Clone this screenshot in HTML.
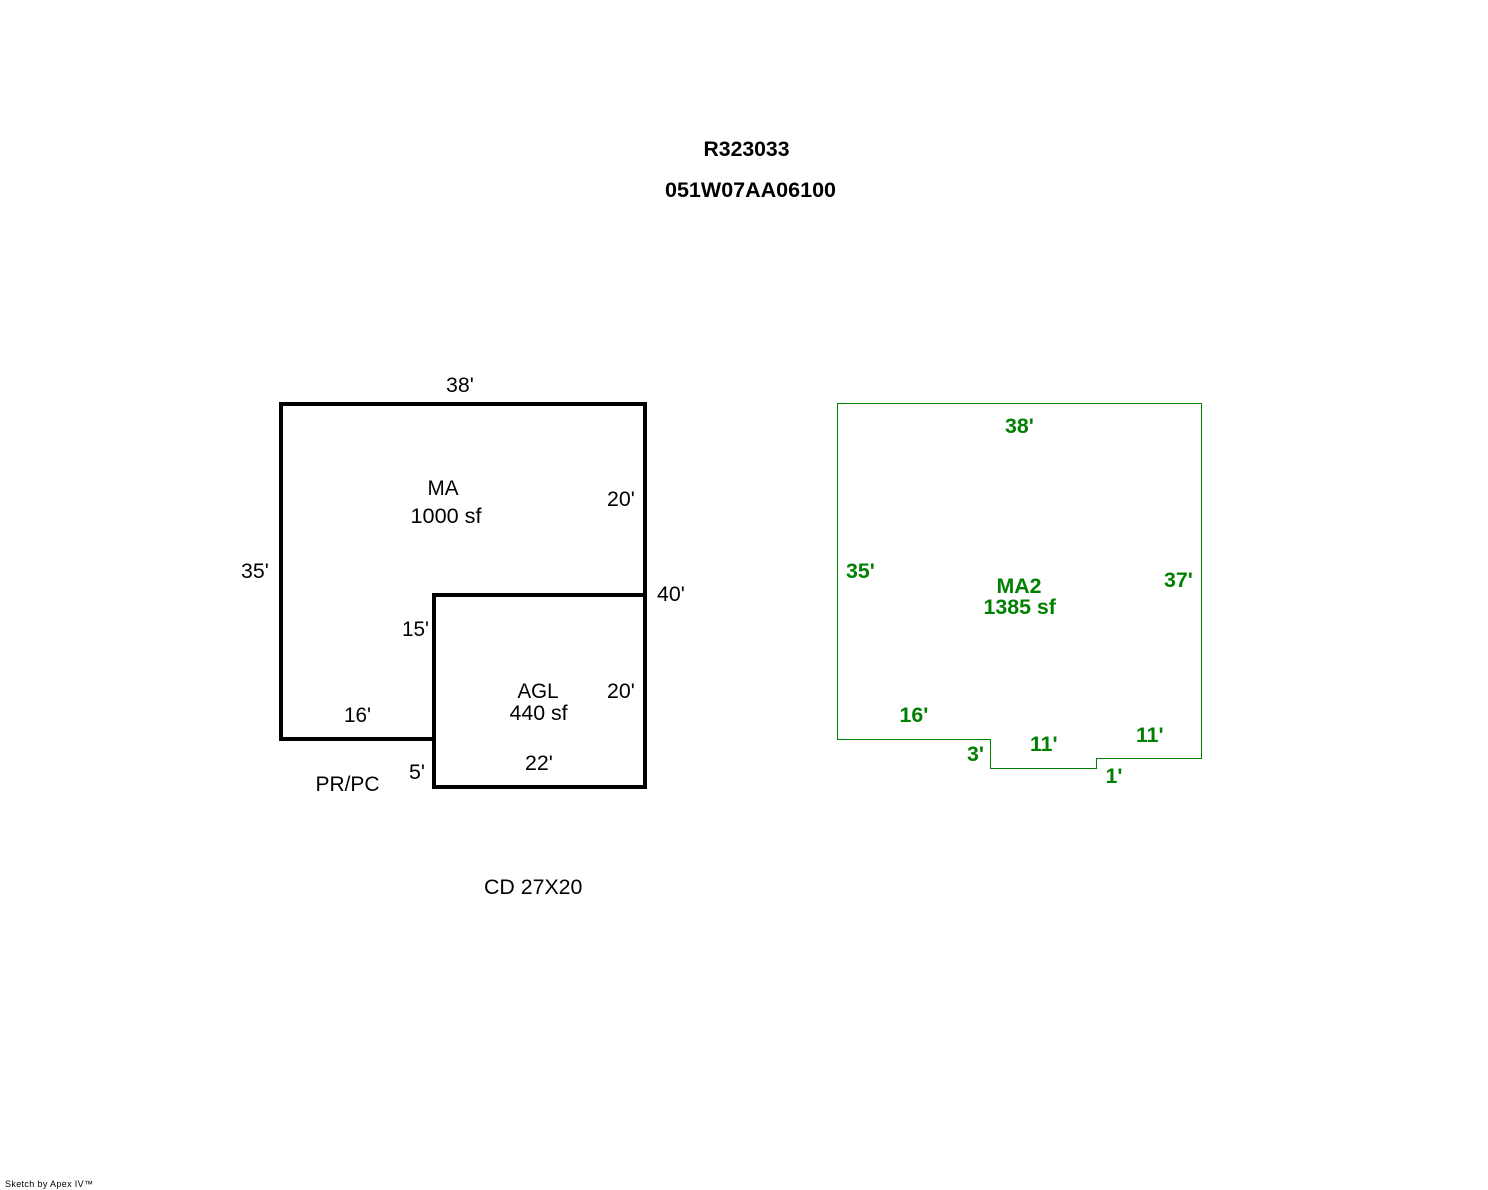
<!DOCTYPE html>
<html>
<head>
<meta charset="utf-8">
<style>
html,body{margin:0;padding:0;background:#fff;width:1488px;height:1190px;overflow:hidden}
svg{display:block}
text{font-family:"Liberation Sans",Arial,sans-serif;font-size:21.33px;fill:#000}
.b{font-weight:bold}
.g{font-weight:bold;fill:#008000}
</style>
</head>
<body>
<svg width="1488" height="1190" viewBox="0 0 1488 1190" xmlns="http://www.w3.org/2000/svg">
<rect width="1488" height="1190" fill="#fff"/>
<text class="b" x="703.5" y="156" textLength="86" lengthAdjust="spacingAndGlyphs">R323033</text>
<text class="b" x="665" y="197" textLength="171" lengthAdjust="spacingAndGlyphs">051W07AA06100</text>

<g fill="none" stroke="#000" stroke-width="4" shape-rendering="crispEdges" stroke-linejoin="miter">
<polygon points="281,404 645,404 645,787 434,787 434,739 281,739"/>
<polyline points="434,739 434,595 645,595"/>
</g>

<g fill="none" stroke="#008000" stroke-width="1" shape-rendering="crispEdges">
<polygon points="837.5,403.5 1201.5,403.5 1201.5,758.5 1096.5,758.5 1096.5,768.5 990.5,768.5 990.5,739.5 837.5,739.5"/>
</g>

<text x="446" y="392">38'</text>
<text x="427.5" y="495" textLength="31" lengthAdjust="spacingAndGlyphs">MA</text>
<text x="410.5" y="523" textLength="71" lengthAdjust="spacingAndGlyphs">1000 sf</text>
<text x="607" y="506">20'</text>
<text x="241" y="578">35'</text>
<text x="657" y="601">40'</text>
<text x="402" y="636" textLength="27" lengthAdjust="spacingAndGlyphs">15'</text>
<text x="517.5" y="698" textLength="41" lengthAdjust="spacingAndGlyphs">AGL</text>
<text x="509.5" y="720">440 sf</text>
<text x="607" y="698">20'</text>
<text x="344" y="722" textLength="27" lengthAdjust="spacingAndGlyphs">16'</text>
<text x="525" y="770">22'</text>
<text x="409" y="779">5'</text>
<text x="315.5" y="791" textLength="64" lengthAdjust="spacingAndGlyphs">PR/PC</text>
<text x="484" y="894">CD 27X20</text>

<text class="g" x="1005" y="433">38'</text>
<text class="g" x="846" y="578">35'</text>
<text class="g" x="1164" y="587">37'</text>
<text class="g" x="996.5" y="593" textLength="45" lengthAdjust="spacingAndGlyphs">MA2</text>
<text class="g" x="983.5" y="614">1385 sf</text>
<text class="g" x="899.5" y="722">16'</text>
<text class="g" x="967" y="761">3'</text>
<text class="g" x="1030" y="751">11'</text>
<text class="g" x="1136" y="742">11'</text>
<text class="g" x="1105.5" y="783">1'</text>

<text x="5" y="1187" style="font-size:9px" textLength="88" lengthAdjust="spacing">Sketch by Apex IV™</text>
</svg>
</body>
</html>
